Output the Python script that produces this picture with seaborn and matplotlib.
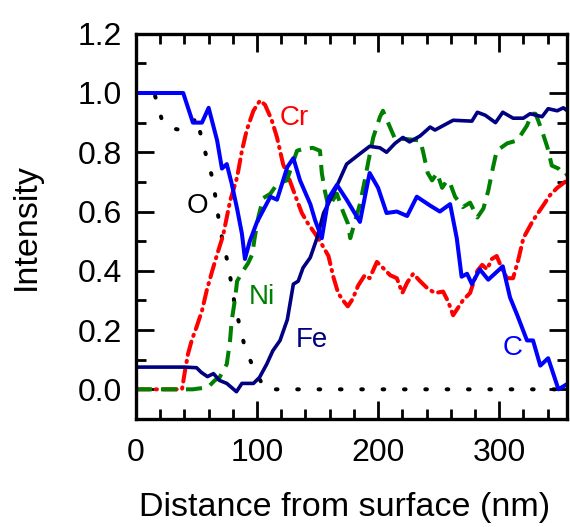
import pandas as pd
import seaborn as sns
import matplotlib.pyplot as plt
from matplotlib.ticker import MultipleLocator, FormatStrFormatter

# depth profile
c_x = [0, 39, 47, 54.5, 60, 67, 71, 75, 79, 83.5, 87.5, 90, 94, 100, 111, 116.5, 125, 130,
       135.5, 144, 148, 153.5, 159, 166, 174, 185, 193, 200, 207, 215.5, 224, 232, 243, 251,
       259.5, 265, 269, 273.5, 277.5, 284, 291, 303, 309, 315, 323, 328, 334, 340.5, 349, 357]
c_y = [1.0, 1.0, 0.90, 0.90, 0.95, 0.84, 0.745, 0.76, 0.695, 0.61, 0.525, 0.44, 0.50, 0.565,
       0.65, 0.64, 0.75, 0.78, 0.705, 0.625, 0.57, 0.51, 0.645, 0.69, 0.64, 0.565, 0.73, 0.68,
       0.595, 0.60, 0.585, 0.65, 0.62, 0.60, 0.625, 0.51, 0.38, 0.39, 0.355, 0.405, 0.37, 0.415,
       0.31, 0.25, 0.165, 0.165, 0.08, 0.105, 0.0, 0.02]

fe_x = [0, 40, 50, 54, 59, 64, 69, 75, 83, 87.5, 97, 102, 108, 113, 119, 125, 130, 134, 138,
        144, 149.5, 155, 163, 174, 185, 193, 201.5, 207, 214, 220.5, 226, 234.7, 243, 247, 262,
        277.5, 282, 288.5, 297, 303, 311.5, 320, 325.6, 335.5, 340.5, 348, 353, 358]
fe_y = [0.075, 0.075, 0.073, 0.057, 0.043, 0.053, 0.03, 0.02, -0.008, 0.02, 0.02, 0.04, 0.085,
        0.13, 0.165, 0.235, 0.355, 0.365, 0.41, 0.445, 0.51, 0.595, 0.66, 0.76, 0.795, 0.82,
        0.815, 0.80, 0.83, 0.85, 0.835, 0.855, 0.885, 0.875, 0.908, 0.905, 0.935, 0.925, 0.90,
        0.935, 0.915, 0.915, 0.93, 0.92, 0.947, 0.94, 0.95, 0.935]

cr_x = [0, 38, 40.5, 43, 46, 50, 54.5, 58.5, 63, 67, 72, 77.7, 83.5, 87.5, 91.5, 97, 102.5,
        106.6, 112, 116.5, 121.5, 127, 131, 137, 142, 148, 152, 159, 163, 167, 171, 175, 179,
        183.5, 189, 193, 199, 204, 210, 215.5, 220, 224, 229, 234.7, 241, 247, 253.7, 258, 262,
        266, 270, 276, 282, 286, 290, 294, 298, 302.5, 306.6, 311.5, 315.7, 320, 328, 335.5,
        342, 348, 356]
cr_y = [0.0, 0.0, 0.063, 0.12, 0.165, 0.21, 0.265, 0.335, 0.40, 0.455, 0.52, 0.635, 0.715,
        0.805, 0.875, 0.94, 0.975, 0.96, 0.91, 0.85, 0.76, 0.705, 0.66, 0.595, 0.56, 0.525, 0.50,
        0.45, 0.38, 0.325, 0.30, 0.28, 0.305, 0.35, 0.385, 0.375, 0.43, 0.41, 0.385, 0.375, 0.325,
        0.36, 0.39, 0.365, 0.34, 0.325, 0.33, 0.295, 0.25, 0.275, 0.30, 0.325, 0.40, 0.42, 0.405,
        0.44, 0.45, 0.405, 0.375, 0.375, 0.435, 0.51, 0.57, 0.615, 0.655, 0.68, 0.705]

ni_x = [0, 47, 59.5, 65, 69, 75, 77.7, 79, 82, 83.5, 88.5, 92.5, 96, 98, 101, 105, 111, 117,
        124.6, 133, 137, 146, 152, 153.5, 156, 159, 166, 171, 175, 177, 185, 189, 192, 196,
        201.6, 204, 214, 222, 234.7, 237, 241, 244.6, 248.7, 252.9, 257, 259.5, 263.6, 270, 276,
        282, 287, 291, 295, 298, 306.6, 315, 323, 327, 330, 332, 336, 340, 343.5, 349, 354.5, 358]
ni_y = [0.0, 0.0, 0.007, 0.03, 0.04, 0.085, 0.165, 0.23, 0.31, 0.365, 0.40, 0.425, 0.455, 0.51,
        0.58, 0.645, 0.66, 0.695, 0.705, 0.805, 0.81, 0.815, 0.805, 0.73, 0.67, 0.615, 0.66, 0.60,
        0.56, 0.51, 0.625, 0.705, 0.77, 0.85, 0.92, 0.94, 0.845, 0.845, 0.84, 0.805, 0.73, 0.705,
        0.73, 0.68, 0.705, 0.695, 0.65, 0.615, 0.63, 0.58, 0.61, 0.67, 0.75, 0.805, 0.83, 0.84,
        0.89, 0.93, 0.93, 0.91, 0.865, 0.815, 0.755, 0.745, 0.72, 0.73]

o_x = [0, 15, 18, 22, 30, 38, 45, 50, 54, 58.5, 63, 66, 68.6, 72, 76, 79, 82, 86, 90, 97, 104,
       107, 360]
o_y = [1.0, 1.0, 0.96, 0.90, 0.88, 0.875, 0.885, 0.92, 0.85, 0.78, 0.715, 0.64, 0.565, 0.49,
       0.425, 0.35, 0.275, 0.21, 0.14, 0.073, 0.02, 0.0, 0.0]

labels = ['O', 'Cr', 'Ni', 'Fe', 'C']
label_x = [51, 131, 104, 145, 311]
label_y = [0.62, 0.915, 0.31, 0.165, 0.14]

colors = {'O': 'black', 'Cr': '#ff0000', 'Ni': '#008000', 'Fe': '#000080', 'C': '#0000ff'}

sns.set_style('ticks')
plt.rcParams['font.family'] = ['Liberation Sans', 'DejaVu Sans']
plt.rcParams['text.color'] = 'black'
plt.rcParams['axes.labelcolor'] = 'black'
plt.rcParams['xtick.labelcolor'] = 'black'
plt.rcParams['ytick.labelcolor'] = 'black'

fig = plt.figure(figsize=(5.7, 5.27), dpi=100)
ax = fig.add_axes([0.2386, 0.205, 0.756, 0.731])

series = [
    ('O', o_x, o_y, (0, (0.4, 4.9)), 'round'),
    ('Cr', cr_x, cr_y, (0, (3.4, 1.5, 0.3, 1.5)), 'round'),
    ('Ni', ni_x, ni_y, (0, (4.0, 2.2)), 'butt'),
    ('Fe', fe_x, fe_y, '-', 'butt'),
    ('C', c_x, c_y, '-', 'butt'),
]
for name, xs, ys, ls, cap in series:
    df = pd.DataFrame({'x': xs, 'y': ys})
    lw = 2.9 if name != 'Fe' else 2.6
    sns.lineplot(data=df, x='x', y='y', ax=ax, sort=False, estimator=None,
                 color=colors[name], linewidth=lw, linestyle=ls,
                 dash_capstyle=cap, solid_joinstyle='round')

for t, tx, ty in zip(labels, label_x, label_y):
    ax.text(tx, ty, t, color=colors[t], fontsize=20, ha='center', va='center')

ax.set_xlim(0, 356)
ax.set_ylim(-0.1, 1.2)
ax.xaxis.set_major_locator(MultipleLocator(100))
ax.xaxis.set_minor_locator(MultipleLocator(20))
ax.yaxis.set_major_locator(MultipleLocator(0.2))
ax.yaxis.set_minor_locator(MultipleLocator(0.1))
ax.yaxis.set_major_formatter(FormatStrFormatter('%.1f'))

ax.tick_params(which='both', direction='in', top=True, right=True, width=2.0,
               labelsize=23, color='black')
ax.tick_params(which='major', length=13)
ax.tick_params(axis='x', which='major', pad=14)
ax.tick_params(axis='y', which='major', pad=10)
ax.tick_params(which='minor', length=7.5)
for s in ax.spines.values():
    s.set_linewidth(2.4)
    s.set_color('black')

ax.set_xlabel('Distance from surface (nm)', fontsize=24.5, labelpad=17, x=0.483)
ax.set_ylabel('Intensity', fontsize=24.5, labelpad=26)

fig.savefig('out.png', dpi=100)
plt.close(fig)
